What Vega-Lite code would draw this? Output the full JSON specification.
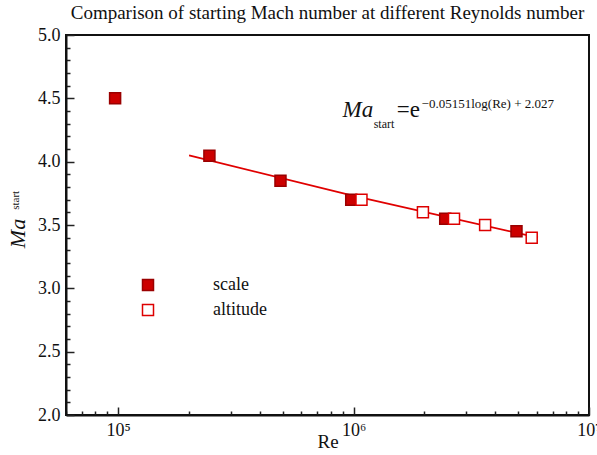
{
  "$schema": "https://vega.github.io/schema/vega-lite/v6.json",
  "width": 523,
  "height": 380,
  "autosize": {"type": "none"},
  "padding": {"left": 66, "top": 35, "right": 8, "bottom": 40},
  "background": "white",
  "config": {"font": "Liberation Serif", "view": {"stroke": "#111", "strokeWidth": 2}},
  "title": {"text": "Comparison of starting Mach number at different Reynolds number", "fontSize": 19, "fontWeight": "normal", "font": "Liberation Serif", "color": "#111", "offset": 3},
  "datasets": {
    "fit": [{"Re": 200000, "Ma": 4.05}, {"Re": 1000000, "Ma": 3.73}, {"Re": 6070000, "Ma": 3.40}],
    "pts": [
      {"Re": 97000, "Ma": 4.50, "type": "scale"},
      {"Re": 244000, "Ma": 4.047, "type": "scale"},
      {"Re": 489000, "Ma": 3.849, "type": "scale"},
      {"Re": 977000, "Ma": 3.70, "type": "scale"},
      {"Re": 2450000, "Ma": 3.55, "type": "scale"},
      {"Re": 4920000, "Ma": 3.45, "type": "scale"},
      {"Re": 1080000, "Ma": 3.70, "type": "altitude"},
      {"Re": 1970000, "Ma": 3.60, "type": "altitude"},
      {"Re": 2670000, "Ma": 3.55, "type": "altitude"},
      {"Re": 3620000, "Ma": 3.50, "type": "altitude"},
      {"Re": 5710000, "Ma": 3.40, "type": "altitude"}
    ],
    "annMa": [{"Re": 897000, "Ma": 4.352, "text": "Ma"}],
    "annSub": [{"Re": 1217000, "Ma": 4.265, "text": "start"}],
    "annEq": [{"Re": 1524000, "Ma": 4.352, "text": "=e"}],
    "annExp": [{"Re": 1945000, "Ma": 4.423, "text": "−0.05151log(Re) + 2.027"}],
    "ySub": [{"Re": 38000, "Ma": 3.62, "text": "start"}]
  },
  "encoding": {
    "x": {
      "field": "Re", "type": "quantitative",
      "scale": {"type": "log", "domain": [60000, 10000000], "nice": false},
      "axis": {
        "title": "Re", "titleFontSize": 19, "titleFontWeight": "normal", "titleColor": "#111", "titlePadding": -11,
        "values": [60000, 70000, 80000, 90000, 100000, 200000, 300000, 400000, 500000, 600000, 700000, 800000, 900000, 1000000, 2000000, 3000000, 4000000, 5000000, 6000000, 7000000, 8000000, 9000000, 10000000],
        "labelExpr": "datum.value == 100000 ? '10⁵' : datum.value == 1000000 ? '10⁶' : datum.value == 10000000 ? '10⁷' : ''",
        "labelFontSize": 18, "labelColor": "#111", "labelFlush": false, "labelOverlap": false, "labelPadding": 14,
        "tickSize": {"condition": {"test": "datum.value == 100000 || datum.value == 1000000 || datum.value == 10000000", "value": -8}, "value": -4},
        "tickColor": "#222", "tickWidth": 1.5, "domainColor": "#111", "domainWidth": 2, "grid": false
      }
    },
    "y": {
      "field": "Ma", "type": "quantitative",
      "scale": {"domain": [2, 5], "nice": false, "zero": false},
      "axis": {
        "title": "Ma", "titleFontStyle": "italic", "titleFontSize": 22, "titleFontWeight": "normal", "titleColor": "#111",
        "titleX": -42, "titleY": 198, "titleAngle": -90, "titleAlign": "center", "titleBaseline": "alphabetic",
        "values": [2.0, 2.1, 2.2, 2.3, 2.4, 2.5, 2.6, 2.7, 2.8, 2.9, 3.0, 3.1, 3.2, 3.3, 3.4, 3.5, 3.6, 3.7, 3.8, 3.9, 4.0, 4.1, 4.2, 4.3, 4.4, 4.5, 4.6, 4.7, 4.8, 4.9, 5.0],
        "labelExpr": "abs(round(datum.value * 2) - datum.value * 2) < 0.001 ? format(datum.value, '.1f') : ''",
        "labelFontSize": 18, "labelColor": "#111", "labelFlush": false, "labelOverlap": false, "labelPadding": 14,
        "tickSize": {"condition": {"test": "abs(round(datum.value * 2) - datum.value * 2) < 0.001", "value": -8}, "value": -4},
        "tickColor": "#222", "tickWidth": 1.5, "domainColor": "#111", "domainWidth": 2, "grid": false
      }
    }
  },
  "layer": [
    {"data": {"name": "fit"}, "mark": {"type": "line", "color": "#e00000", "strokeWidth": 1.8}},
    {
      "data": {"name": "pts"},
      "mark": {"type": "square", "size": 121, "strokeWidth": 1.5, "opacity": 1},
      "encoding": {
        "fill": {"field": "type", "type": "nominal", "scale": {"domain": ["scale", "altitude"], "range": ["#cc0000", "#ffffff"]},
          "legend": {"title": null, "orient": "none", "legendX": 73, "legendY": 241, "labelFontSize": 18, "labelFont": "Liberation Serif", "labelColor": "#111", "labelOffset": 56, "symbolType": "square", "symbolSize": 121, "rowPadding": 7, "symbolStrokeWidth": 1.5}},
        "stroke": {"field": "type", "type": "nominal", "scale": {"domain": ["scale", "altitude"], "range": ["#9a0000", "#dd0000"]},
          "legend": {"title": null, "orient": "none", "legendX": 73, "legendY": 241, "labelFontSize": 18, "labelFont": "Liberation Serif", "labelColor": "#111", "labelOffset": 56, "symbolType": "square", "symbolSize": 121, "rowPadding": 7, "symbolStrokeWidth": 1.5}}
      }
    },
    {"data": {"name": "annMa"}, "mark": {"type": "text", "align": "left", "baseline": "alphabetic", "fontSize": 23, "fontStyle": "italic", "color": "#111"}, "encoding": {"text": {"field": "text"}}},
    {"data": {"name": "annSub"}, "mark": {"type": "text", "align": "left", "baseline": "alphabetic", "fontSize": 12, "color": "#111"}, "encoding": {"text": {"field": "text"}}},
    {"data": {"name": "annEq"}, "mark": {"type": "text", "align": "left", "baseline": "alphabetic", "fontSize": 23, "color": "#111"}, "encoding": {"text": {"field": "text"}}},
    {"data": {"name": "annExp"}, "mark": {"type": "text", "align": "left", "baseline": "alphabetic", "fontSize": 13, "color": "#111"}, "encoding": {"text": {"field": "text"}}},
    {"data": {"name": "ySub"}, "mark": {"type": "text", "align": "left", "baseline": "alphabetic", "fontSize": 11, "angle": 270, "color": "#111"}, "encoding": {"text": {"field": "text"}}}
  ]
}
